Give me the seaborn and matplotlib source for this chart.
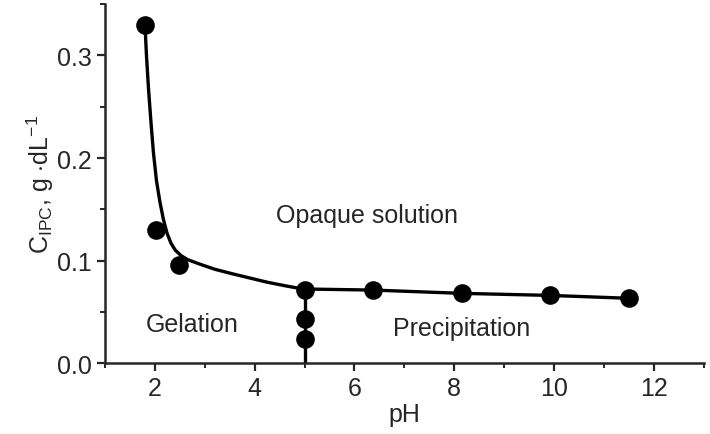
import numpy as np
import pandas as pd
import matplotlib
matplotlib.use("Agg")
import matplotlib.pyplot as plt
import seaborn as sns
from matplotlib.ticker import MultipleLocator, FormatStrFormatter

# measured points
ph_points = [1.80, 2.03, 2.49, 5.0, 5.0, 5.0, 6.38, 8.16, 9.93, 11.5]
c_points = [0.330, 0.130, 0.096, 0.0714, 0.043, 0.0235, 0.0714, 0.0684, 0.0665, 0.0632]

# phase boundary curve
curve_ph = [1.80, 1.83, 1.87, 1.92, 1.97, 2.03, 2.10, 2.17, 2.24, 2.32, 2.41, 2.52,
            2.65, 2.90, 3.20, 3.56, 3.90, 4.24, 4.60, 4.96, 6.38, 8.16, 9.93, 11.5]
curve_c = [0.330, 0.300, 0.268, 0.235, 0.205, 0.178, 0.157, 0.140, 0.127, 0.117, 0.110,
           0.105, 0.101, 0.0965, 0.0915, 0.087, 0.083, 0.079, 0.0755, 0.0723,
           0.0712, 0.068, 0.066, 0.0632]

# vertical boundary at pH 5
vert_ph = [5.0, 5.0]
vert_c = [0.0, 0.0723]

region_labels = ["Opaque solution", "Gelation", "Precipitation"]
region_x = [6.25, 2.75, 8.15]
region_y = [0.144, 0.038, 0.034]

sns.set_style("ticks")
plt.rcParams["font.family"] = ["Liberation Sans", "DejaVu Sans"]
plt.rcParams["mathtext.fontset"] = "custom"
plt.rcParams["mathtext.rm"] = "Liberation Sans"
plt.rcParams["mathtext.it"] = "Liberation Sans"

fig = plt.figure(figsize=(7.1, 4.35), dpi=100)
ax = fig.add_axes([0.148, 0.163, 0.843, 0.825])

curve_df = pd.DataFrame({"pH": curve_ph, "C": curve_c})
sns.lineplot(data=curve_df, x="pH", y="C", sort=False, estimator=None,
             color="black", lw=2.4, ax=ax)
sns.lineplot(x=vert_ph, y=vert_c, sort=False, estimator=None,
             color="black", lw=2.4, ax=ax)
sns.scatterplot(x=ph_points, y=c_points, s=180, color="black",
                edgecolor="black", linewidth=0, zorder=5, ax=ax)

for lab, x, y in zip(region_labels, region_x, region_y):
    ax.text(x, y, lab, fontsize=18, ha="center", va="center")

ax.set_xlim(1, 13)
ax.set_ylim(0, 0.35)
ax.set_xticks([2, 4, 6, 8, 10, 12])
ax.xaxis.set_minor_locator(MultipleLocator(1))
ax.yaxis.set_major_locator(MultipleLocator(0.1))
ax.yaxis.set_minor_locator(MultipleLocator(0.05))
ax.yaxis.set_major_formatter(FormatStrFormatter("%.1f"))

ax.set_xlabel("pH", fontsize=18, labelpad=1)
ax.set_ylabel(r"C$_{\mathrm{IPC}}$, g $\cdot$dL$^{-1}$", fontsize=18, labelpad=1)

ax.tick_params(axis="both", which="major", length=6, width=1.6, labelsize=18, direction="out")
ax.tick_params(axis="both", which="minor", length=3.5, width=1.4, direction="out")
for s in ["left", "bottom"]:
    ax.spines[s].set_linewidth(1.8)
sns.despine(ax=ax)

fig.savefig("out.png", dpi=100)
